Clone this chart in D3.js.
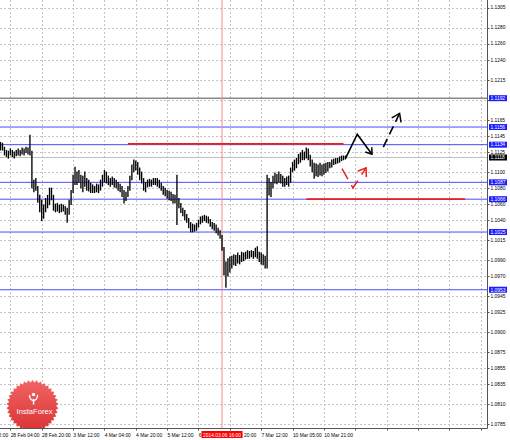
<!DOCTYPE html>
<html>
<head>
<meta charset="utf-8">
<script src="https://cdn.jsdelivr.net/npm/d3@7"></script>
<style>
  body { margin: 0; background: #fff; }
  svg { display: block; }
</style>
</head>
<body>
<div id="chart"></div>
<script>
// H1 candles, bar index 0 = 28 Feb 00:00, first stored bar is index -1
const firstBar = -1;
const highs = [
  1.1137,1.1136,1.1131,1.1127,1.1126,1.1129,1.1127,1.1125,1.1127,1.1129,
  1.1127,1.1130,1.1129,1.1131,1.1130,1.1146,1.1126,1.1090,1.1092,1.1082,
  1.1071,1.1065,1.1059,1.1067,1.1071,1.1080,1.1080,1.1071,1.1060,1.1061,
  1.1059,1.1060,1.1059,1.1057,1.1055,1.1065,1.1077,1.1096,1.1106,1.1100,
  1.1102,1.1096,1.1095,1.1100,1.1092,1.1090,1.1086,1.1084,1.1082,1.1085,
  1.1084,1.1090,1.1096,1.1102,1.1100,1.1095,1.1092,1.1094,1.1092,1.1090,
  1.1087,1.1085,1.1082,1.1077,1.1075,1.1082,1.1095,1.1109,1.1115,1.1114,
  1.1112,1.1105,1.1100,1.1092,1.1087,1.1090,1.1091,1.1090,1.1092,1.1092,
  1.1092,1.1090,1.1086,1.1082,1.1080,1.1077,1.1076,1.1075,1.1072,1.1071,
  1.1096,1.1067,1.1061,1.1055,1.1052,1.1047,1.1042,1.1037,1.1035,1.1034,
  1.1036,1.1040,1.1044,1.1045,1.1046,1.1045,1.1044,1.1041,1.1037,1.1036,
  1.1034,1.1030,1.1027,1.1021,1.1006,1.0988,1.0992,1.0994,1.0995,1.0997,
  1.0996,1.0999,1.0996,1.1000,1.0999,1.1000,1.1002,1.1001,1.1002,1.1001,
  1.1005,1.1007,1.1000,1.0999,1.0997,1.0995,1.1096,1.1092,1.1087,1.1095,
  1.1099,1.1097,1.1100,1.1097,1.1095,1.1092,1.1094,1.1095,1.1105,1.1112,
  1.1115,1.1117,1.1122,1.1124,1.1127,1.1125,1.1130,1.1129,1.1121,1.1115,
  1.1111,1.1110,1.1109,1.1111,1.1109,1.1110,1.1111,1.1112,1.1112,1.1115,
  1.1116,1.1117,1.1117,1.1119,1.1120,1.1120,1.1120
];
const lows = [
  1.1127,1.1127,1.1121,1.1119,1.1117,1.1121,1.1119,1.1117,1.1120,1.1121,
  1.1120,1.1122,1.1121,1.1124,1.1122,1.1121,1.1080,1.1075,1.1077,1.1062,
  1.1050,1.1039,1.1042,1.1050,1.1055,1.1059,1.1065,1.1052,1.1050,1.1051,
  1.1049,1.1050,1.1051,1.1047,1.1037,1.1047,1.1059,1.1074,1.1084,1.1084,
  1.1087,1.1080,1.1075,1.1082,1.1077,1.1076,1.1074,1.1074,1.1074,1.1075,
  1.1074,1.1077,1.1082,1.1087,1.1086,1.1084,1.1082,1.1084,1.1081,1.1080,
  1.1077,1.1075,1.1069,1.1061,1.1064,1.1069,1.1077,1.1090,1.1100,1.1102,
  1.1097,1.1090,1.1086,1.1077,1.1075,1.1081,1.1082,1.1082,1.1084,1.1084,
  1.1082,1.1080,1.1077,1.1072,1.1070,1.1067,1.1065,1.1064,1.1061,1.1061,
  1.1034,1.1055,1.1049,1.1045,1.1040,1.1037,1.1030,1.1025,1.1025,1.1026,
  1.1027,1.1031,1.1035,1.1037,1.1039,1.1037,1.1036,1.1032,1.1029,1.1027,
  1.1024,1.1021,1.1017,1.1002,1.0971,1.0956,1.0970,1.0975,1.0980,1.0984,
  1.0983,1.0986,1.0985,1.0988,1.0989,1.0991,1.0992,1.0992,1.0994,1.0992,
  1.0994,1.0992,1.0988,1.0985,1.0984,1.0980,1.0980,1.1071,1.1069,1.1080,
  1.1086,1.1085,1.1087,1.1086,1.1082,1.1082,1.1084,1.1082,1.1087,1.1100,
  1.1102,1.1105,1.1110,1.1112,1.1115,1.1115,1.1117,1.1115,1.1107,1.1100,
  1.1092,1.1095,1.1094,1.1096,1.1095,1.1097,1.1099,1.1101,1.1105,1.1106,
  1.1109,1.1110,1.1111,1.1112,1.1114,1.1115,1.1116
];
const bid = 1.1118;

// price axis
const priceTicks = [1.1305, 1.1280, 1.1260, 1.1240, 1.1215, 1.1190, 1.1165, 1.1145,
  1.1125, 1.1100, 1.1080, 1.1060, 1.1040, 1.1015, 1.0990, 1.0970, 1.0945, 1.0925,
  1.0900, 1.0875, 1.0855, 1.0835, 1.0810, 1.0785];
// time axis (bar index of each grid line, labels for the ones with text)
const gridBars = [-12, 4, 20, 36, 52, 68, 84, 100, 116, 132, 148, 164, 180, 196, 212, 228, 244];
const timeLabels = ["27 Feb 12:00", "28 Feb 04:00", "28 Feb 20:00", "3 Mar 12:00", "4 Mar 04:00",
  "4 Mar 20:00", "5 Mar 12:00", "6 Mar 04:00", "6 Mar 20:00", "7 Mar 12:00", "10 Mar 05:00", "10 Mar 21:00"];

// horizontal levels
const blueLevels = [1.1156, 1.1134, 1.1087, 1.1066, 1.1025, 1.0953];
const darkLevel = 1.1192;
const redFrom = [64, 155], redTo = [174, 236], redPrice = [1.1135, 1.1066];

// vertical line object
const cursorBar = 112;
const cursorText = "2014.03.06 16:00";

// forecast arrows: [bar, price]
const blackArrow = [[175, 1.1117], [181, 1.1147], [188.5, 1.1122]];
const blackDashArrow = [[194.3, 1.1131], [202.6, 1.1173]];
const redDashArrow = [[173.2, 1.1104], [178.8, 1.1080], [185.5, 1.1105]];

const width = 510, height = 440;
const plotRight = 487, plotBottom = 428;
const font = "'Liberation Sans', Arial, sans-serif";

const x = d3.scaleLinear().domain([0, 246]).range([2.5, 2.5 + 1.96 * 246]);
const y = d3.scaleLinear().domain([1.07805, 1.13145]).range([plotBottom, 0]);
const fmt = d3.format(".4f");

const svg = d3.select("#chart").append("svg")
    .attr("width", width)
    .attr("height", height)
    .attr("viewBox", [0, 0, width, height]);

const defs = svg.append("defs");
defs.append("clipPath").attr("id", "plotClip")
  .append("rect").attr("width", plotRight).attr("height", plotBottom);

// open arrowheads
function arrowHead(id, color, len) {
  const a = 35 * Math.PI / 180;
  const dx = -len * Math.cos(a), dy = len * Math.sin(a);
  defs.append("marker")
      .attr("id", id)
      .attr("markerUnits", "userSpaceOnUse")
      .attr("viewBox", [-len - 2, -len, len + 4, 2 * len])
      .attr("markerWidth", len + 4)
      .attr("markerHeight", 2 * len)
      .attr("refX", 0).attr("refY", 0)
      .attr("orient", "auto")
    .append("path")
      .attr("d", `M${dx},${-dy}L0,0L${dx},${dy}`)
      .attr("fill", "none")
      .attr("stroke", color)
      .attr("stroke-width", 1.5);
}
arrowHead("headBlack", "#000", 7);
arrowHead("headBlackBig", "#000", 9);
arrowHead("headRed", "#ee2020", 9);

const grad = defs.append("linearGradient").attr("id", "badge")
    .attr("x1", 0).attr("y1", 0).attr("x2", 0).attr("y2", 1);
grad.append("stop").attr("offset", "0%").attr("stop-color", "#f26464");
grad.append("stop").attr("offset", "100%").attr("stop-color", "#d93333");

const plot = svg.append("g").attr("clip-path", "url(#plotClip)");

// grid
plot.append("g")
  .selectAll("line")
  .data(priceTicks)
  .join("line")
    .attr("x1", 0).attr("x2", plotRight)
    .attr("y1", d => Math.round(y(d)) + 0.5)
    .attr("y2", d => Math.round(y(d)) + 0.5)
    .attr("stroke", "#c4c4c4")
    .attr("stroke-dasharray", "2,2");
plot.append("g")
  .selectAll("line")
  .data(gridBars)
  .join("line")
    .attr("x1", d => Math.round(x(d)) + 0.5)
    .attr("x2", d => Math.round(x(d)) + 0.5)
    .attr("y1", 0).attr("y2", plotBottom)
    .attr("stroke", "#c4c4c4")
    .attr("stroke-dasharray", "2,2");

// levels
plot.append("line")
    .attr("x1", 0).attr("x2", plotRight)
    .attr("y1", y(bid)).attr("y2", y(bid))
    .attr("stroke", "#c0c0c0");
plot.append("line")
    .attr("x1", 0).attr("x2", plotRight)
    .attr("y1", y(darkLevel)).attr("y2", y(darkLevel))
    .attr("stroke", "#3a3a3a").attr("stroke-width", 0.9);
plot.append("g")
  .selectAll("line")
  .data(blueLevels)
  .join("line")
    .attr("x1", 0).attr("x2", plotRight)
    .attr("y1", d => y(d)).attr("y2", d => y(d))
    .attr("stroke", "#4a4aff").attr("stroke-width", 1);

// vertical line object
plot.append("line")
    .attr("x1", x(cursorBar)).attr("x2", x(cursorBar))
    .attr("y1", 0).attr("y2", plotBottom)
    .attr("stroke", "#f48a8a").attr("stroke-width", 1);

// candles (at this zoom MT4 draws them as high-low strokes)
const bars = highs.map((h, k) => ({i: k + firstBar, high: h, low: lows[k]}));
plot.append("g")
  .selectAll("line")
  .data(bars)
  .join("line")
    .attr("x1", d => x(d.i)).attr("x2", d => x(d.i))
    .attr("y1", d => y(d.high) - 0.3).attr("y2", d => y(d.low) + 0.3)
    .attr("stroke", "#000").attr("stroke-width", 1.35);

// red trend levels
plot.append("g")
  .selectAll("line")
  .data(redPrice)
  .join("line")
    .attr("x1", (d, k) => x(redFrom[k])).attr("x2", (d, k) => x(redTo[k]))
    .attr("y1", d => y(d)).attr("y2", d => y(d))
    .attr("stroke", "#ee1c1c").attr("stroke-width", 1.7);

// forecast arrows
const line = d3.line().x(d => x(d[0])).y(d => y(d[1]));
plot.append("path")
    .attr("d", line(blackArrow))
    .attr("fill", "none").attr("stroke", "#000").attr("stroke-width", 1.6)
    .attr("stroke-linejoin", "miter")
    .attr("marker-end", "url(#headBlack)");
plot.append("path")
    .attr("d", line(blackDashArrow))
    .attr("fill", "none").attr("stroke", "#000").attr("stroke-width", 1.6)
    .attr("stroke-dasharray", "9,5")
    .attr("marker-end", "url(#headBlackBig)");
plot.append("path")
    .attr("d", line(redDashArrow))
    .attr("fill", "none").attr("stroke", "#ee2020").attr("stroke-width", 1.5)
    .attr("stroke-dasharray", "12,7")
    .attr("marker-end", "url(#headRed)");

// InstaForex badge
const cx = 32.5, cy = 406, rOut = 26, rIn = 23.6, teeth = 38;
const star = d3.range(teeth * 2).map(k => {
  const r = k % 2 ? rIn : rOut;
  const a = k * Math.PI / teeth - Math.PI / 2;
  return [cx + r * Math.cos(a), cy + r * Math.sin(a)];
});
const badge = plot.append("g");
badge.append("path")
    .attr("d", d3.line()(star) + "Z")
    .attr("fill", "url(#badge)");
badge.append("circle")
    .attr("cx", cx + 1).attr("cy", cy - 11.5).attr("r", 1.7)
    .attr("fill", "#fff");
badge.append("path")
    .attr("d", `M${cx - 3},${cy - 11} Q${cx - 3},${cy - 6} ${cx + 1},${cy - 5.5} Q${cx + 5},${cy - 6} ${cx + 5},${cy - 11}`)
    .attr("fill", "none").attr("stroke", "#fff").attr("stroke-width", 1.3);
badge.append("rect")
    .attr("x", cx + 0.3).attr("y", cy - 7).attr("width", 1.5).attr("height", 5.5)
    .attr("fill", "#fff");
badge.append("text")
    .attr("x", cx + 2).attr("y", cy + 8)
    .attr("text-anchor", "middle")
    .attr("font-family", font).attr("font-size", 7.6)
    .attr("fill", "#fff")
    .text("InstaForex");

// frame
svg.append("path")
    .attr("d", `M${plotRight + 0.5},0V${plotBottom + 0.5}H0`)
    .attr("fill", "none").attr("stroke", "#555");

// price axis
const boxes = blueLevels.concat([darkLevel]).map(v => ({v, fill: "#1c1cff"}))
  .concat([{v: bid, fill: "#000"}]);
// tick labels sitting right under a highlighted label are hidden, as in the terminal
const shownTicks = priceTicks.filter(t => boxes.every(b => Math.abs(y(t) - y(b.v)) > 3));

const yAxis = svg.append("g").attr("font-family", font).attr("font-size", 4.9);
yAxis.selectAll("line")
  .data(priceTicks)
  .join("line")
    .attr("x1", plotRight + 0.5).attr("x2", plotRight + 2.5)
    .attr("y1", d => Math.round(y(d)) + 0.5).attr("y2", d => Math.round(y(d)) + 0.5)
    .attr("stroke", "#555");
yAxis.selectAll("text")
  .data(shownTicks)
  .join("text")
    .attr("x", plotRight + 3.5)
    .attr("y", d => y(d) + 1.8)
    .attr("fill", "#000")
    .text(fmt);

// highlighted price labels
const boxG = yAxis.selectAll("g.box")
  .data(boxes)
  .join("g");
boxG.append("rect")
    .attr("x", plotRight + 2)
    .attr("y", d => y(d.v) - 3)
    .attr("width", 18).attr("height", 6)
    .attr("fill", d => d.fill);
boxG.append("text")
    .attr("x", plotRight + 3.5)
    .attr("y", d => y(d.v) + 1.8)
    .attr("fill", "#fff")
    .text(d => fmt(d.v));

// time axis
const xAxis = svg.append("g").attr("font-family", font).attr("font-size", 4.9);
xAxis.selectAll("line")
  .data(gridBars)
  .join("line")
    .attr("x1", d => Math.round(x(d)) + 0.5).attr("x2", d => Math.round(x(d)) + 0.5)
    .attr("y1", plotBottom + 0.5).attr("y2", plotBottom + 2.5)
    .attr("stroke", "#555");
xAxis.selectAll("text")
  .data(timeLabels)
  .join("text")
    .attr("x", (d, k) => x(gridBars[k]) + 0.3)
    .attr("y", plotBottom + 8.5)
    .attr("fill", "#000")
    .text(d => d);

// label of the vertical line, drawn over the time labels
const cursorG = svg.append("g").attr("font-family", font).attr("font-size", 4.9);
const cursorBox = cursorG.append("rect").attr("fill", "#ff0000");
const cursorLabel = cursorG.append("text")
    .attr("x", x(cursorBar))
    .attr("y", plotBottom + 8.5)
    .attr("text-anchor", "middle")
    .attr("fill", "#fff")
    .text(cursorText);
const tw = cursorLabel.node().getComputedTextLength();
cursorBox
    .attr("x", x(cursorBar) - tw / 2 - 1.5)
    .attr("y", plotBottom + 3)
    .attr("width", tw + 3)
    .attr("height", 7);
</script>
</body>
</html>
